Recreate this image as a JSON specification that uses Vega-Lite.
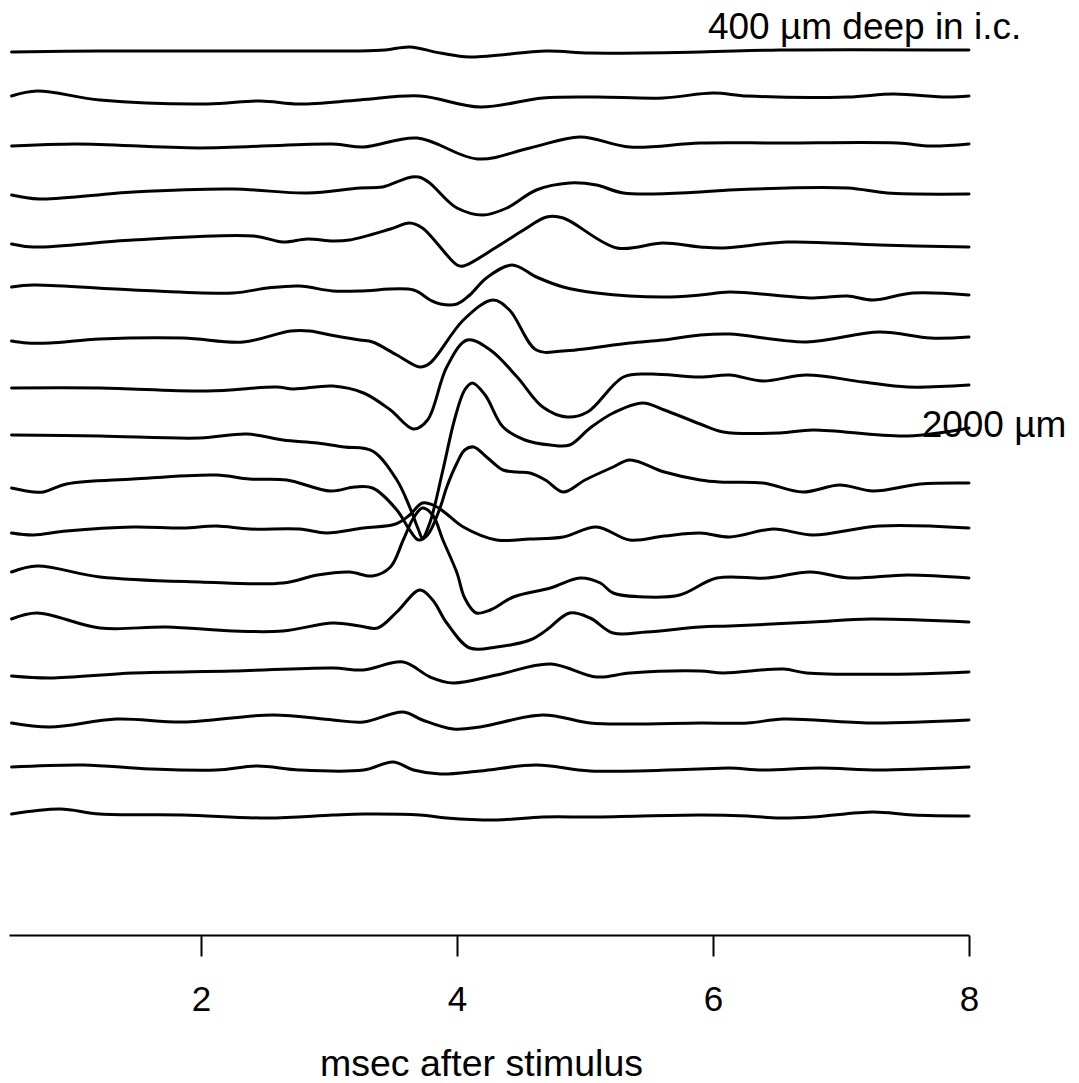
{
  "$schema": "https://vega.github.io/schema/vega-lite/v6.json",
  "width": 960,
  "height": 935,
  "autosize": {"type": "none"},
  "padding": {"left": 9, "right": 110, "top": 0, "bottom": 148},
  "background": "white",
  "config": {"view": {"stroke": null}},
  "datasets": {
    "traces": [
      {"d":1,"t":0.52,"v":88.3},{"d":1,"t":1.21,"v":88.4},{"d":1,"t":1.99,"v":88.4},{"d":1,"t":2.77,"v":88.4},{"d":1,"t":3.24,"v":88.4},{"d":1,"t":3.44,"v":88.5},{"d":1,"t":3.63,"v":88.8},{"d":1,"t":3.87,"v":88.2},{"d":1,"t":4.10,"v":87.8},{"d":1,"t":4.70,"v":88.4},{"d":1,"t":5.04,"v":88.2},{"d":1,"t":5.90,"v":88.3},{"d":1,"t":6.52,"v":88.5},{"d":1,"t":8.00,"v":88.5},
      {"d":2,"t":0.52,"v":83.9},{"d":2,"t":0.72,"v":84.4},{"d":2,"t":1.21,"v":83.5},{"d":2,"t":2.05,"v":83.1},{"d":2,"t":2.46,"v":83.4},{"d":2,"t":2.77,"v":83.1},{"d":2,"t":3.24,"v":83.5},{"d":2,"t":3.71,"v":83.9},{"d":2,"t":4.18,"v":82.8},{"d":2,"t":4.67,"v":83.7},{"d":2,"t":5.09,"v":83.8},{"d":2,"t":5.61,"v":83.7},{"d":2,"t":6.00,"v":84.2},{"d":2,"t":6.27,"v":83.9},{"d":2,"t":7.05,"v":83.8},{"d":2,"t":7.41,"v":84.1},{"d":2,"t":7.83,"v":83.8},{"d":2,"t":8.00,"v":83.9},
      {"d":3,"t":0.52,"v":78.9},{"d":3,"t":1.03,"v":79.1},{"d":3,"t":1.99,"v":78.7},{"d":3,"t":3.03,"v":79.1},{"d":3,"t":3.27,"v":78.8},{"d":3,"t":3.69,"v":79.7},{"d":3,"t":4.16,"v":77.6},{"d":3,"t":4.57,"v":78.7},{"d":3,"t":4.96,"v":79.8},{"d":3,"t":5.35,"v":78.8},{"d":3,"t":5.90,"v":79.2},{"d":3,"t":6.52,"v":79.2},{"d":3,"t":7.44,"v":79.2},{"d":3,"t":7.70,"v":78.9},{"d":3,"t":8.00,"v":79.1},
      {"d":4,"t":0.52,"v":74.0},{"d":4,"t":0.74,"v":73.6},{"d":4,"t":1.47,"v":74.3},{"d":4,"t":2.25,"v":74.6},{"d":4,"t":2.83,"v":74.2},{"d":4,"t":3.24,"v":74.7},{"d":4,"t":3.42,"v":74.8},{"d":4,"t":3.70,"v":75.8},{"d":4,"t":4.00,"v":72.7},{"d":4,"t":4.20,"v":72.0},{"d":4,"t":4.39,"v":72.7},{"d":4,"t":4.62,"v":74.5},{"d":4,"t":4.88,"v":75.2},{"d":4,"t":5.09,"v":75.0},{"d":4,"t":5.30,"v":74.2},{"d":4,"t":5.90,"v":74.3},{"d":4,"t":6.13,"v":74.5},{"d":4,"t":7.05,"v":74.7},{"d":4,"t":7.36,"v":74.2},{"d":4,"t":8.00,"v":74.1},
      {"d":5,"t":0.52,"v":69.1},{"d":5,"t":0.69,"v":68.8},{"d":5,"t":1.47,"v":69.5},{"d":5,"t":2.41,"v":69.9},{"d":5,"t":2.64,"v":69.3},{"d":5,"t":2.83,"v":69.6},{"d":5,"t":3.03,"v":69.4},{"d":5,"t":3.16,"v":69.5},{"d":5,"t":3.48,"v":70.6},{"d":5,"t":3.63,"v":71.2},{"d":5,"t":3.73,"v":70.7},{"d":5,"t":4.00,"v":67.0},{"d":5,"t":4.05,"v":66.9},{"d":5,"t":4.31,"v":68.8},{"d":5,"t":4.52,"v":70.5},{"d":5,"t":4.70,"v":71.8},{"d":5,"t":4.83,"v":71.7},{"d":5,"t":5.25,"v":68.7},{"d":5,"t":5.61,"v":69.2},{"d":5,"t":5.90,"v":68.8},{"d":5,"t":6.08,"v":68.7},{"d":5,"t":6.58,"v":69.3},{"d":5,"t":7.30,"v":69.0},{"d":5,"t":8.00,"v":68.8},
      {"d":6,"t":0.52,"v":64.8},{"d":6,"t":0.69,"v":65.0},{"d":6,"t":1.47,"v":64.5},{"d":6,"t":2.25,"v":64.2},{"d":6,"t":2.52,"v":64.7},{"d":6,"t":2.77,"v":64.9},{"d":6,"t":3.03,"v":64.4},{"d":6,"t":3.24,"v":64.4},{"d":6,"t":3.66,"v":64.5},{"d":6,"t":3.79,"v":63.5},{"d":6,"t":3.87,"v":63.1},{"d":6,"t":4.00,"v":63.1},{"d":6,"t":4.10,"v":64.0},{"d":6,"t":4.23,"v":65.7},{"d":6,"t":4.43,"v":67.0},{"d":6,"t":4.62,"v":65.8},{"d":6,"t":4.83,"v":64.8},{"d":6,"t":5.09,"v":64.2},{"d":6,"t":5.61,"v":63.8},{"d":6,"t":5.90,"v":64.0},{"d":6,"t":6.13,"v":64.3},{"d":6,"t":6.78,"v":63.7},{"d":6,"t":7.05,"v":63.9},{"d":6,"t":7.25,"v":63.5},{"d":6,"t":7.56,"v":64.2},{"d":6,"t":8.00,"v":64.0},
      {"d":7,"t":0.52,"v":59.4},{"d":7,"t":0.64,"v":59.2},{"d":7,"t":0.82,"v":59.2},{"d":7,"t":1.21,"v":59.6},{"d":7,"t":1.86,"v":59.7},{"d":7,"t":2.33,"v":59.3},{"d":7,"t":2.70,"v":60.4},{"d":7,"t":2.85,"v":60.4},{"d":7,"t":3.01,"v":60.0},{"d":7,"t":3.24,"v":59.5},{"d":7,"t":3.34,"v":59.3},{"d":7,"t":3.53,"v":58.0},{"d":7,"t":3.71,"v":56.8},{"d":7,"t":3.79,"v":57.2},{"d":7,"t":4.05,"v":61.5},{"d":7,"t":4.28,"v":63.5},{"d":7,"t":4.41,"v":62.5},{"d":7,"t":4.62,"v":58.5},{"d":7,"t":4.83,"v":58.4},{"d":7,"t":5.35,"v":59.2},{"d":7,"t":5.61,"v":59.5},{"d":7,"t":5.90,"v":60.0},{"d":7,"t":6.13,"v":60.1},{"d":7,"t":6.73,"v":59.3},{"d":7,"t":7.30,"v":60.3},{"d":7,"t":7.70,"v":59.7},{"d":7,"t":8.00,"v":59.8},
      {"d":8,"t":0.52,"v":54.7},{"d":8,"t":1.21,"v":54.7},{"d":8,"t":2.05,"v":54.4},{"d":8,"t":2.59,"v":54.8},{"d":8,"t":2.72,"v":54.6},{"d":8,"t":3.03,"v":54.9},{"d":8,"t":3.27,"v":54.2},{"d":8,"t":3.48,"v":52.5},{"d":8,"t":3.66,"v":50.6},{"d":8,"t":3.77,"v":51.5},{"d":8,"t":3.92,"v":56.8},{"d":8,"t":4.08,"v":59.5},{"d":8,"t":4.26,"v":58.5},{"d":8,"t":4.47,"v":55.8},{"d":8,"t":4.67,"v":52.8},{"d":8,"t":4.86,"v":51.8},{"d":8,"t":5.02,"v":52.3},{"d":8,"t":5.30,"v":55.8},{"d":8,"t":5.51,"v":56.1},{"d":8,"t":5.90,"v":55.8},{"d":8,"t":6.13,"v":56.0},{"d":8,"t":6.39,"v":55.4},{"d":8,"t":6.73,"v":56.0},{"d":8,"t":7.17,"v":55.3},{"d":8,"t":7.52,"v":54.8},{"d":8,"t":8.00,"v":55.0},
      {"d":9,"t":0.52,"v":50.0},{"d":9,"t":1.21,"v":49.9},{"d":9,"t":1.99,"v":49.7},{"d":9,"t":2.36,"v":50.1},{"d":9,"t":2.64,"v":49.5},{"d":9,"t":2.91,"v":49.2},{"d":9,"t":3.12,"v":48.8},{"d":9,"t":3.34,"v":48.4},{"d":9,"t":3.53,"v":45.5},{"d":9,"t":3.63,"v":42.8},{"d":9,"t":3.70,"v":40.5},{"d":9,"t":3.73,"v":39.7},{"d":9,"t":3.79,"v":41.3},{"d":9,"t":3.89,"v":46.5},{"d":9,"t":3.98,"v":51.5},{"d":9,"t":4.06,"v":54.5},{"d":9,"t":4.12,"v":55.2},{"d":9,"t":4.22,"v":54.0},{"d":9,"t":4.36,"v":50.8},{"d":9,"t":4.53,"v":49.5},{"d":9,"t":4.73,"v":49.0},{"d":9,"t":4.88,"v":49.0},{"d":9,"t":5.04,"v":50.7},{"d":9,"t":5.22,"v":52.2},{"d":9,"t":5.45,"v":53.2},{"d":9,"t":5.62,"v":52.5},{"d":9,"t":5.90,"v":51.1},{"d":9,"t":6.08,"v":50.3},{"d":9,"t":6.52,"v":50.2},{"d":9,"t":6.78,"v":50.5},{"d":9,"t":7.52,"v":49.9},{"d":9,"t":8.00,"v":50.7},
      {"d":10,"t":0.52,"v":44.7},{"d":10,"t":0.69,"v":44.3},{"d":10,"t":0.77,"v":44.3},{"d":10,"t":0.95,"v":45.1},{"d":10,"t":1.47,"v":45.6},{"d":10,"t":2.12,"v":46.0},{"d":10,"t":2.38,"v":45.6},{"d":10,"t":2.67,"v":45.5},{"d":10,"t":3.01,"v":44.4},{"d":10,"t":3.20,"v":44.8},{"d":10,"t":3.34,"v":44.7},{"d":10,"t":3.53,"v":42.5},{"d":10,"t":3.63,"v":40.5},{"d":10,"t":3.70,"v":39.5},{"d":10,"t":3.77,"v":40.0},{"d":10,"t":3.87,"v":42.8},{"d":10,"t":3.92,"v":44.8},{"d":10,"t":4.00,"v":47.2},{"d":10,"t":4.06,"v":48.5},{"d":10,"t":4.13,"v":48.8},{"d":10,"t":4.24,"v":47.7},{"d":10,"t":4.36,"v":46.5},{"d":10,"t":4.47,"v":46.3},{"d":10,"t":4.57,"v":46.2},{"d":10,"t":4.69,"v":45.5},{"d":10,"t":4.83,"v":44.3},{"d":10,"t":5.00,"v":45.5},{"d":10,"t":5.22,"v":46.8},{"d":10,"t":5.35,"v":47.5},{"d":10,"t":5.62,"v":46.3},{"d":10,"t":5.90,"v":45.5},{"d":10,"t":6.05,"v":45.3},{"d":10,"t":6.39,"v":45.2},{"d":10,"t":6.70,"v":44.3},{"d":10,"t":6.99,"v":45.0},{"d":10,"t":7.25,"v":44.4},{"d":10,"t":7.62,"v":45.1},{"d":10,"t":8.00,"v":45.2},
      {"d":11,"t":0.52,"v":40.2},{"d":11,"t":0.69,"v":40.0},{"d":11,"t":0.95,"v":40.4},{"d":11,"t":1.47,"v":40.8},{"d":11,"t":1.86,"v":40.7},{"d":11,"t":2.12,"v":40.9},{"d":11,"t":2.38,"v":40.6},{"d":11,"t":2.77,"v":40.6},{"d":11,"t":2.98,"v":40.2},{"d":11,"t":3.27,"v":40.7},{"d":11,"t":3.52,"v":41.1},{"d":11,"t":3.63,"v":42.0},{"d":11,"t":3.73,"v":43.2},{"d":11,"t":3.83,"v":42.9},{"d":11,"t":3.91,"v":42.2},{"d":11,"t":4.05,"v":40.8},{"d":11,"t":4.31,"v":39.5},{"d":11,"t":4.57,"v":39.6},{"d":11,"t":4.83,"v":39.8},{"d":11,"t":5.09,"v":40.8},{"d":11,"t":5.35,"v":39.5},{"d":11,"t":5.62,"v":39.9},{"d":11,"t":5.90,"v":40.2},{"d":11,"t":6.13,"v":39.8},{"d":11,"t":6.47,"v":40.6},{"d":11,"t":6.78,"v":40.0},{"d":11,"t":7.30,"v":40.9},{"d":11,"t":8.00,"v":40.7},
      {"d":12,"t":0.52,"v":36.3},{"d":12,"t":0.72,"v":36.9},{"d":12,"t":1.21,"v":35.8},{"d":12,"t":1.99,"v":35.3},{"d":12,"t":2.64,"v":35.2},{"d":12,"t":2.91,"v":36.0},{"d":12,"t":3.16,"v":36.3},{"d":12,"t":3.34,"v":35.9},{"d":12,"t":3.48,"v":36.8},{"d":12,"t":3.58,"v":39.5},{"d":12,"t":3.66,"v":41.7},{"d":12,"t":3.73,"v":42.7},{"d":12,"t":3.81,"v":42.0},{"d":12,"t":3.89,"v":39.5},{"d":12,"t":4.00,"v":36.2},{"d":12,"t":4.06,"v":33.7},{"d":12,"t":4.15,"v":32.2},{"d":12,"t":4.26,"v":32.5},{"d":12,"t":4.44,"v":33.8},{"d":12,"t":4.73,"v":34.7},{"d":12,"t":4.96,"v":35.7},{"d":12,"t":5.12,"v":35.2},{"d":12,"t":5.22,"v":34.2},{"d":12,"t":5.48,"v":33.8},{"d":12,"t":5.74,"v":34.0},{"d":12,"t":6.03,"v":35.7},{"d":12,"t":6.42,"v":35.7},{"d":12,"t":6.76,"v":36.3},{"d":12,"t":7.07,"v":35.7},{"d":12,"t":7.52,"v":36.0},{"d":12,"t":8.00,"v":35.7},
      {"d":13,"t":0.52,"v":31.6},{"d":13,"t":0.72,"v":32.2},{"d":13,"t":1.21,"v":30.7},{"d":13,"t":1.73,"v":30.8},{"d":13,"t":2.25,"v":30.4},{"d":13,"t":2.64,"v":30.4},{"d":13,"t":3.03,"v":31.2},{"d":13,"t":3.24,"v":30.9},{"d":13,"t":3.38,"v":30.7},{"d":13,"t":3.53,"v":32.3},{"d":13,"t":3.71,"v":34.5},{"d":13,"t":3.81,"v":33.5},{"d":13,"t":3.92,"v":31.2},{"d":13,"t":4.10,"v":28.7},{"d":13,"t":4.31,"v":28.8},{"d":13,"t":4.57,"v":29.5},{"d":13,"t":4.70,"v":30.5},{"d":13,"t":4.88,"v":32.2},{"d":13,"t":5.04,"v":31.7},{"d":13,"t":5.22,"v":30.2},{"d":13,"t":5.48,"v":30.3},{"d":13,"t":5.90,"v":30.8},{"d":13,"t":6.13,"v":30.9},{"d":13,"t":6.78,"v":31.3},{"d":13,"t":7.23,"v":31.6},{"d":13,"t":8.00,"v":31.3},
      {"d":14,"t":0.52,"v":25.9},{"d":14,"t":0.82,"v":25.7},{"d":14,"t":1.47,"v":26.2},{"d":14,"t":2.25,"v":26.4},{"d":14,"t":3.03,"v":26.7},{"d":14,"t":3.27,"v":26.5},{"d":14,"t":3.58,"v":27.3},{"d":14,"t":3.79,"v":25.8},{"d":14,"t":3.97,"v":25.2},{"d":14,"t":4.31,"v":26.0},{"d":14,"t":4.73,"v":27.1},{"d":14,"t":5.09,"v":25.8},{"d":14,"t":5.35,"v":26.2},{"d":14,"t":5.90,"v":26.4},{"d":14,"t":6.08,"v":26.2},{"d":14,"t":6.55,"v":26.6},{"d":14,"t":6.73,"v":26.2},{"d":14,"t":7.56,"v":26.1},{"d":14,"t":8.00,"v":26.3},
      {"d":15,"t":0.52,"v":21.2},{"d":15,"t":0.82,"v":20.8},{"d":15,"t":1.34,"v":21.6},{"d":15,"t":1.86,"v":21.3},{"d":15,"t":2.56,"v":22.0},{"d":15,"t":3.03,"v":21.5},{"d":15,"t":3.27,"v":21.3},{"d":15,"t":3.58,"v":22.3},{"d":15,"t":3.73,"v":21.5},{"d":15,"t":3.97,"v":20.6},{"d":15,"t":4.18,"v":20.8},{"d":15,"t":4.67,"v":22.0},{"d":15,"t":5.04,"v":21.2},{"d":15,"t":5.35,"v":21.1},{"d":15,"t":5.90,"v":21.2},{"d":15,"t":6.27,"v":21.2},{"d":15,"t":6.55,"v":21.6},{"d":15,"t":7.23,"v":21.2},{"d":15,"t":8.00,"v":21.5},
      {"d":16,"t":0.52,"v":16.8},{"d":16,"t":1.08,"v":17.0},{"d":16,"t":1.60,"v":16.6},{"d":16,"t":2.12,"v":16.5},{"d":16,"t":2.44,"v":16.9},{"d":16,"t":2.77,"v":16.5},{"d":16,"t":3.27,"v":16.5},{"d":16,"t":3.50,"v":17.3},{"d":16,"t":3.66,"v":16.5},{"d":16,"t":3.87,"v":16.1},{"d":16,"t":4.18,"v":16.4},{"d":16,"t":4.62,"v":17.0},{"d":16,"t":5.04,"v":16.4},{"d":16,"t":5.90,"v":16.6},{"d":16,"t":6.13,"v":16.7},{"d":16,"t":6.39,"v":16.5},{"d":16,"t":6.84,"v":16.7},{"d":16,"t":7.30,"v":16.5},{"d":16,"t":8.00,"v":16.8},
      {"d":17,"t":0.52,"v":12.1},{"d":17,"t":0.90,"v":12.6},{"d":17,"t":1.21,"v":12.1},{"d":17,"t":1.86,"v":12.0},{"d":17,"t":2.52,"v":11.7},{"d":17,"t":3.03,"v":12.0},{"d":17,"t":3.27,"v":12.1},{"d":17,"t":3.71,"v":12.0},{"d":17,"t":3.92,"v":11.7},{"d":17,"t":4.31,"v":11.5},{"d":17,"t":4.67,"v":11.8},{"d":17,"t":5.09,"v":11.8},{"d":17,"t":5.90,"v":12.0},{"d":17,"t":6.27,"v":11.9},{"d":17,"t":6.52,"v":11.7},{"d":17,"t":6.78,"v":11.8},{"d":17,"t":7.25,"v":12.3},{"d":17,"t":7.56,"v":12.0},{"d":17,"t":8.00,"v":11.9}
    ],
    "labels": [
      {"t": 5.96, "v": 89.6, "label": "400 µm deep in i.c."},
      {"t": 7.63, "v": 49.8, "label": "2000 µm"}
    ]
  },
  "layer": [
    {
      "data": {"name": "traces"},
      "mark": {"type": "line", "color": "black", "strokeWidth": 3, "interpolate": "catmull-rom", "strokeJoin": "round", "strokeCap": "round"},
      "encoding": {
        "x": {
          "field": "t", "type": "quantitative",
          "scale": {"domain": [0.5, 8], "nice": false, "zero": false},
          "axis": {
            "values": [2, 4, 6, 8], "format": "d", "grid": false, "labelFlush": false,
            "domainColor": "black", "domainWidth": 2,
            "tickColor": "black", "tickWidth": 2, "tickSize": 21,
            "labelFont": "Liberation Sans", "labelFontSize": 35, "labelColor": "black", "labelPadding": 26,
            "title": "msec after stimulus", "titleFont": "Liberation Sans", "titleFontSize": 37.5,
            "titleFontWeight": "normal", "titleColor": "black", "titlePadding": 28, "titleX": 472
          }
        },
        "y": {
          "field": "v", "type": "quantitative",
          "scale": {"domain": [0, 93.5], "nice": false, "zero": false},
          "axis": null
        },
        "detail": {"field": "d", "type": "nominal"}
      }
    },
    {
      "data": {"name": "labels"},
      "mark": {"type": "text", "align": "left", "baseline": "alphabetic", "font": "Liberation Sans", "fontSize": 37, "color": "black"},
      "encoding": {
        "x": {"field": "t", "type": "quantitative"},
        "y": {"field": "v", "type": "quantitative"},
        "text": {"field": "label"}
      }
    }
  ]
}
